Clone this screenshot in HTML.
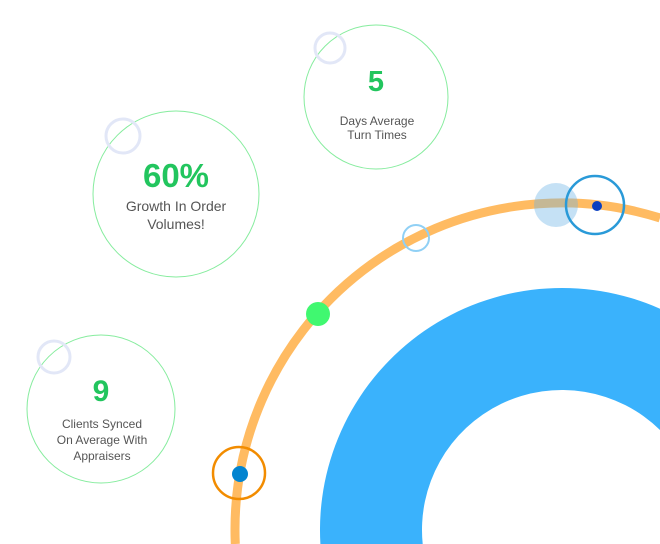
<!DOCTYPE html>
<html><head><meta charset="utf-8"><style>
html,body{margin:0;padding:0;background:#fff;width:660px;height:544px;overflow:hidden;}
#wrap{position:relative;width:660px;height:544px;overflow:hidden;}
svg{display:block;overflow:hidden;}
text{font-family:"Liberation Sans",sans-serif;}
</style></head><body>
<div id="wrap">
<svg width="660" height="544" viewBox="0 0 660 544" xmlns="http://www.w3.org/2000/svg">
<path d="M320.4,544 A242,242 0 0 1 660,308.7 L660,430 A140,140 0 0 0 422.7,544 Z" fill="#3ab2fc"/>
<path d="M235.3,544 A327,327 0 0 1 660,218" fill="none" stroke="#ffbb62" stroke-width="9"/>
<circle cx="556" cy="205" r="22" fill="#6fb5e5" fill-opacity="0.4"/>
<circle cx="595" cy="205" r="29" fill="none" stroke="#2a9ad8" stroke-width="2.5"/>
<circle cx="597" cy="206" r="5" fill="#0a3fc0"/>
<circle cx="416" cy="238" r="13" fill="none" stroke="#90d0f5" stroke-width="2"/>
<circle cx="318" cy="314" r="12" fill="#40f870"/>
<circle cx="239" cy="473" r="26" fill="none" stroke="#f28c00" stroke-width="2.5"/>
<circle cx="240" cy="474" r="8" fill="#0284d0"/>
<circle cx="176" cy="194" r="83" fill="none" stroke="#86ec9e" stroke-width="1"/>
<circle cx="123" cy="136" r="17" fill="none" stroke="#e2e7f7" stroke-width="3"/>
<text x="176" y="187" text-anchor="middle" font-size="33" font-weight="bold" fill="#22c55e">60%</text>
<text x="176" y="211" text-anchor="middle" font-size="14" fill="#555">Growth In Order</text>
<text x="176" y="229" text-anchor="middle" font-size="14" fill="#555">Volumes!</text>
<circle cx="376" cy="97" r="72" fill="none" stroke="#86ec9e" stroke-width="1"/>
<circle cx="330" cy="48" r="15" fill="none" stroke="#e2e7f7" stroke-width="3"/>
<text x="376" y="91" text-anchor="middle" font-size="29" font-weight="bold" fill="#22c55e">5</text>
<text x="377" y="125" text-anchor="middle" font-size="12" fill="#555">Days Average</text>
<text x="377" y="139" text-anchor="middle" font-size="12" fill="#555">Turn Times</text>
<circle cx="101" cy="409" r="74" fill="none" stroke="#86ec9e" stroke-width="1"/>
<circle cx="54" cy="357" r="16" fill="none" stroke="#e2e7f7" stroke-width="3"/>
<text x="101" y="401" text-anchor="middle" font-size="30" font-weight="bold" fill="#22c55e">9</text>
<text x="102" y="428" text-anchor="middle" font-size="12" fill="#555">Clients Synced</text>
<text x="102" y="444" text-anchor="middle" font-size="12" fill="#555">On Average With</text>
<text x="102" y="460" text-anchor="middle" font-size="12" fill="#555">Appraisers</text>
</svg>
</div>
</body></html>
